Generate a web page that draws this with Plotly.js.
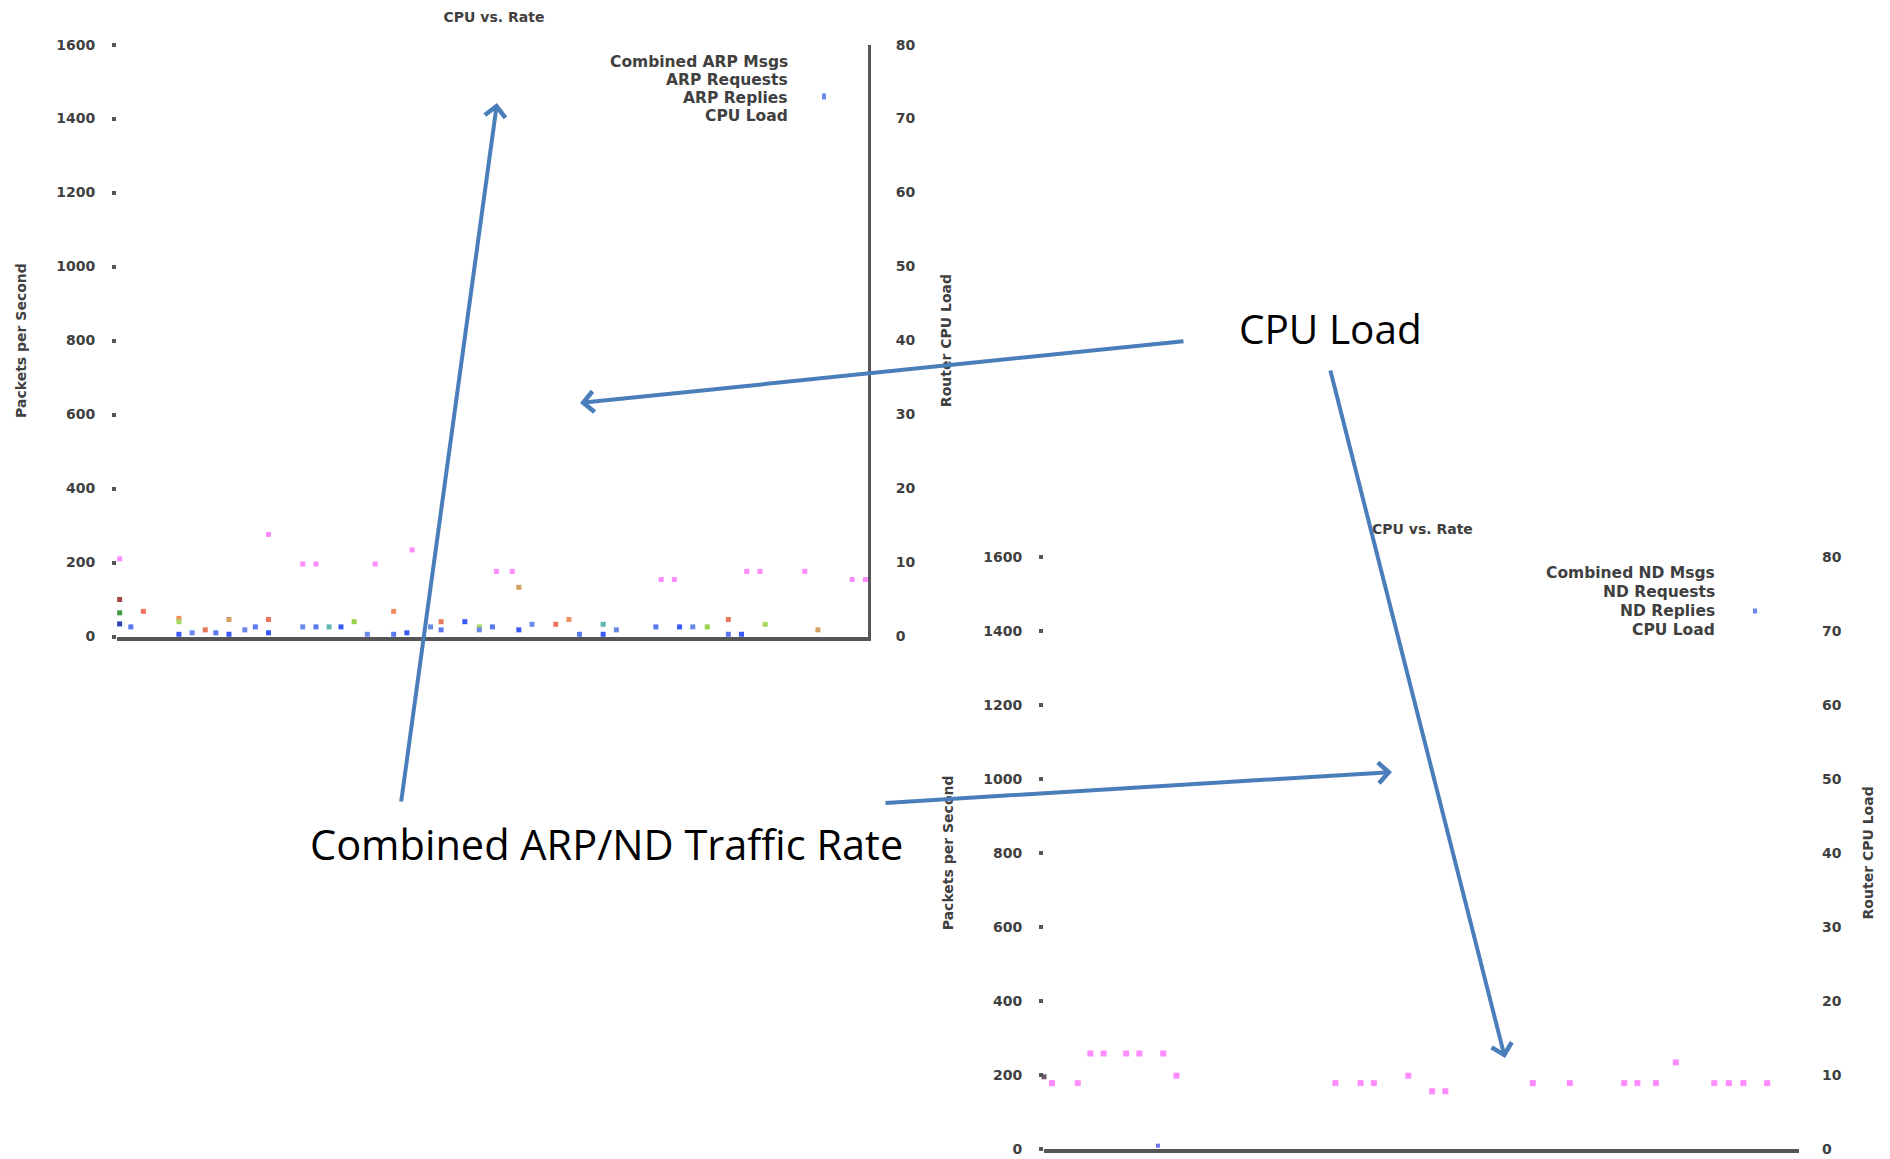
<!DOCTYPE html>
<html>
<head>
<meta charset="utf-8">
<script src="https://cdn.plot.ly/plotly-3.0.1.min.js"></script>
<style>html,body{margin:0;padding:0;background:#fff;}#chart{width:1890px;height:1159px;}</style>
</head>
<body>
<div id="chart"></div>
<script>
// ---------- data ----------
// Chart 1: ARP
const arpCombinedX = [0.2, 2.0, 4.7, 6.7, 11.5, 21.0, 24.6, 33.3, 34.3, 46.4];
const arpCombinedY = [100, 68, 49, 18, 46, 68, 40, 33, 46, 46];
const arpRequestsX = [0.2, 4.7, 8.5, 16.1, 18.0, 27.5, 30.5, 36.9, 44.8, 49.2, 53.2];
const arpRequestsY = [64, 40, 46, 26, 40, 26, 133, 33, 26, 33, 18];
const arpRepliesX = [0.2, 1.05, 4.7, 5.7, 7.5, 8.5, 9.7, 10.5, 11.5, 14.1, 15.1, 17.0, 19.0, 21.0, 22.0,
                     23.8, 24.6, 26.4, 27.5, 28.5, 30.5, 31.5, 35.1, 36.9, 37.9, 40.9, 42.7, 43.7, 46.4, 47.4];
const arpRepliesY = [34, 26, 6, 10, 10, 6, 18, 26, 10, 26, 26, 26, 6, 6, 10,
                     26, 18, 40, 18, 26, 18, 33, 6, 6, 18, 26, 26, 26, 6, 6];
const cpuArpX = [0.2, 11.5, 14.1, 15.1, 19.6, 22.4, 28.8, 30.0, 41.3, 42.3, 47.8, 48.8, 52.2, 55.8, 56.8];
const cpuArpY = [10.5, 13.8, 9.8, 9.8, 9.8, 11.7, 8.8, 8.8, 7.7, 7.7, 8.8, 8.8, 8.8, 7.7, 7.7];

// Chart 2: ND
const ndCombinedX = [0.0];
const ndCombinedY = [195];
const ndRequestsX = [];
const ndRequestsY = [];
const ndRepliesX = [8.6];
const ndRepliesY = [9];
const cpuNdX = [0.6, 2.55, 3.5, 4.5, 6.2, 7.2, 9.0, 10.0, 22.0, 23.9, 24.9, 27.5, 29.3, 30.3,
                36.9, 39.7, 43.8, 44.8, 46.2, 47.7, 50.6, 51.7, 52.8, 54.6];
const cpuNdY = [8.9, 8.9, 12.9, 12.9, 12.9, 12.9, 12.9, 9.9, 8.9, 8.9, 8.9, 9.9, 7.8, 7.8,
                8.9, 8.9, 8.9, 8.9, 8.9, 11.7, 8.9, 8.9, 8.9, 8.9];

const chartTitle = "CPU vs. Rate";
const leftAxisTitle = "Packets per Second";
const rightAxisTitle = "Router CPU Load";
const legendArp = ["Combined ARP Msgs", "ARP Requests", "ARP Replies", "CPU Load"];
const legendNd = ["Combined ND Msgs", "ND Requests", "ND Replies", "CPU Load"];
const calloutCpu = "CPU Load";
const calloutRate = "Combined ARP/ND Traffic Rate";

// ---------- layout helpers ----------
const W = 1890, H = 1159;
const px = x => x / W;
const py = y => 1 - y / H;
const FONT = "DejaVu Sans";
const GRAY = "#404040";
const AXC = "#555555";
const ARROW = "#4A7EBB";

const palette = (arr, n) => Array.from({length: n}, (_, i) => arr[i % arr.length]);

function mk(x, y, name, xa, ya, colors, size) {
  return {
    type: "scatter", mode: "markers", x: x, y: y, name: name,
    xaxis: xa, yaxis: ya, cliponaxis: false, showlegend: false,
    marker: {symbol: "square", size: size || 5, color: colors, line: {width: 0}}
  };
}

const traces = [
  mk(arpCombinedX, arpCombinedY, legendArp[0], "x", "y",
     ["#A0474A"].concat(palette(["#F0735A", "#F0905E", "#E8785A"], arpCombinedX.length - 1))),
  mk(arpRequestsX, arpRequestsY, legendArp[1], "x", "y",
     ["#3F9A48"].concat(palette(["#A8D860", "#D4A060", "#5CB8B0", "#98D048"], arpRequestsX.length - 1))),
  mk(arpRepliesX, arpRepliesY, legendArp[2], "x", "y",
     ["#2A40B8"].concat(palette(["#5A78F0", "#3858F8", "#6A8AE8"], arpRepliesX.length - 1))),
  mk(cpuArpX, cpuArpY, legendArp[3], "x", "y2", "#FF8CFF", 5),
  mk(ndCombinedX, ndCombinedY, legendNd[0], "x2", "y3", "#705870", 5),
  mk(ndRequestsX, ndRequestsY, legendNd[1], "x2", "y3", "#7CC060", 5),
  mk(ndRepliesX, ndRepliesY, legendNd[2], "x2", "y3", "#7070F0", 4),
  mk(cpuNdX, cpuNdY, legendNd[3], "x2", "y4", "#FF8CFF", 6)
];

const tickFont = {family: FONT, size: 14, color: GRAY, weight: "bold"};
const titleFont = {family: FONT, size: 14, color: GRAY, weight: "bold"};

function xAx(domain, anchor) {
  return {domain: domain, anchor: anchor, range: [0, 57], showgrid: false, zeroline: false,
          showticklabels: false, ticks: "", showline: true, linewidth: 4, linecolor: AXC,
          fixedrange: true};
}
function yLeft(domain, anchor) {
  return {domain: domain, anchor: anchor, range: [0, 1600], dtick: 200, tick0: 0,
          showgrid: false, zeroline: false, showline: false,
          ticks: "outside", ticklen: 4, tickwidth: 4, tickcolor: AXC,
          ticklabelstandoff: 14, tickfont: tickFont,
          title: {text: leftAxisTitle, font: titleFont, standoff: 26}};
}
function yRight(over, anchor, line, standoff) {
  return {overlaying: over, anchor: anchor, side: "right", range: [0, 80], dtick: 10, tick0: 0,
          showgrid: false, zeroline: false, showline: line, linewidth: 3, linecolor: AXC,
          ticks: "", ticklabelstandoff: 22, tickfont: tickFont,
          title: {text: rightAxisTitle, font: titleFont, standoff: standoff}};
}

const d1x = [px(117), px(868)], d1y = [py(636.5), py(44.6)];
const d2x = [px(1044), px(1799)], d2y = [py(1149), py(556.7)];

function arrow(tx, ty, hx, hy) {
  return {xref: "paper", yref: "paper", x: px(hx), y: py(hy), ax: tx - hx, ay: ty - hy,
          axref: "pixel", ayref: "pixel", text: "", showarrow: true,
          arrowhead: 4, arrowsize: 1, arrowwidth: 4, arrowcolor: ARROW, standoff: 0, startstandoff: 0};
}

const legFont = {family: FONT, size: 15.5, color: GRAY, weight: "bold"};
function legendLines(labels, xRight, ys) {
  return labels.map((t, i) => ({
    xref: "paper", yref: "paper", x: px(xRight), y: py(ys[i]), text: t, showarrow: false,
    xanchor: "right", yanchor: "middle", align: "right", font: legFont
  }));
}

const annotations = [
  {xref: "paper", yref: "paper", x: px(1422), y: py(528.6), text: chartTitle, showarrow: false,
   xanchor: "center", yanchor: "middle", font: {family: FONT, size: 14, color: GRAY, weight: "bold"}},
  ...legendLines(legendArp, 790, [61.9, 80, 97.6, 115.7]),
  ...legendLines(legendNd, 1717, [573.5, 592.4, 611.3, 630.3]),
  {xref: "paper", yref: "paper", x: px(1330), y: py(329), text: calloutCpu, showarrow: false,
   xanchor: "center", yanchor: "middle", font: {family: "Open Sans", size: 40.5, color: "#000000"}},
  {xref: "paper", yref: "paper", x: px(606.5), y: py(844), text: calloutRate, showarrow: false,
   xanchor: "center", yanchor: "middle", font: {family: "Open Sans", size: 41.5, color: "#000000"}},
  arrow(401, 803, 497, 103),
  arrow(884, 803, 1392, 772),
  arrow(1185, 341, 580, 403),
  arrow(1330, 369, 1505, 1058)
];

const shapes = [
  {type: "rect", xref: "paper", yref: "paper", x0: px(822), x1: px(826), y0: py(99.5), y1: py(93.5),
   fillcolor: "#6A8AF0", line: {width: 0}},
  {type: "rect", xref: "paper", yref: "paper", x0: px(1753), x1: px(1757), y0: py(613.5), y1: py(608.5),
   fillcolor: "#6A8AF0", line: {width: 0}}
];

const layout = {
  width: W, height: H,
  margin: {l: 0, r: 0, t: 0, b: 0, pad: 0},
  paper_bgcolor: "#ffffff", plot_bgcolor: "#ffffff",
  showlegend: false,
  title: {text: chartTitle, x: px(494), xanchor: "center", y: py(17), yanchor: "middle",
          xref: "paper", yref: "paper",
          font: {family: FONT, size: 14, color: GRAY, weight: "bold"}},
  xaxis: xAx(d1x, "y"),
  yaxis: yLeft(d1y, "x"),
  yaxis2: yRight("y", "x", true, 27),
  xaxis2: xAx(d2x, "y3"),
  yaxis3: yLeft(d2y, "x2"),
  yaxis4: yRight("y3", "x2", false, 22),
  annotations: annotations,
  shapes: shapes
};

Plotly.newPlot("chart", traces, layout, {displayModeBar: false, staticPlot: true});
</script>
</body>
</html>
